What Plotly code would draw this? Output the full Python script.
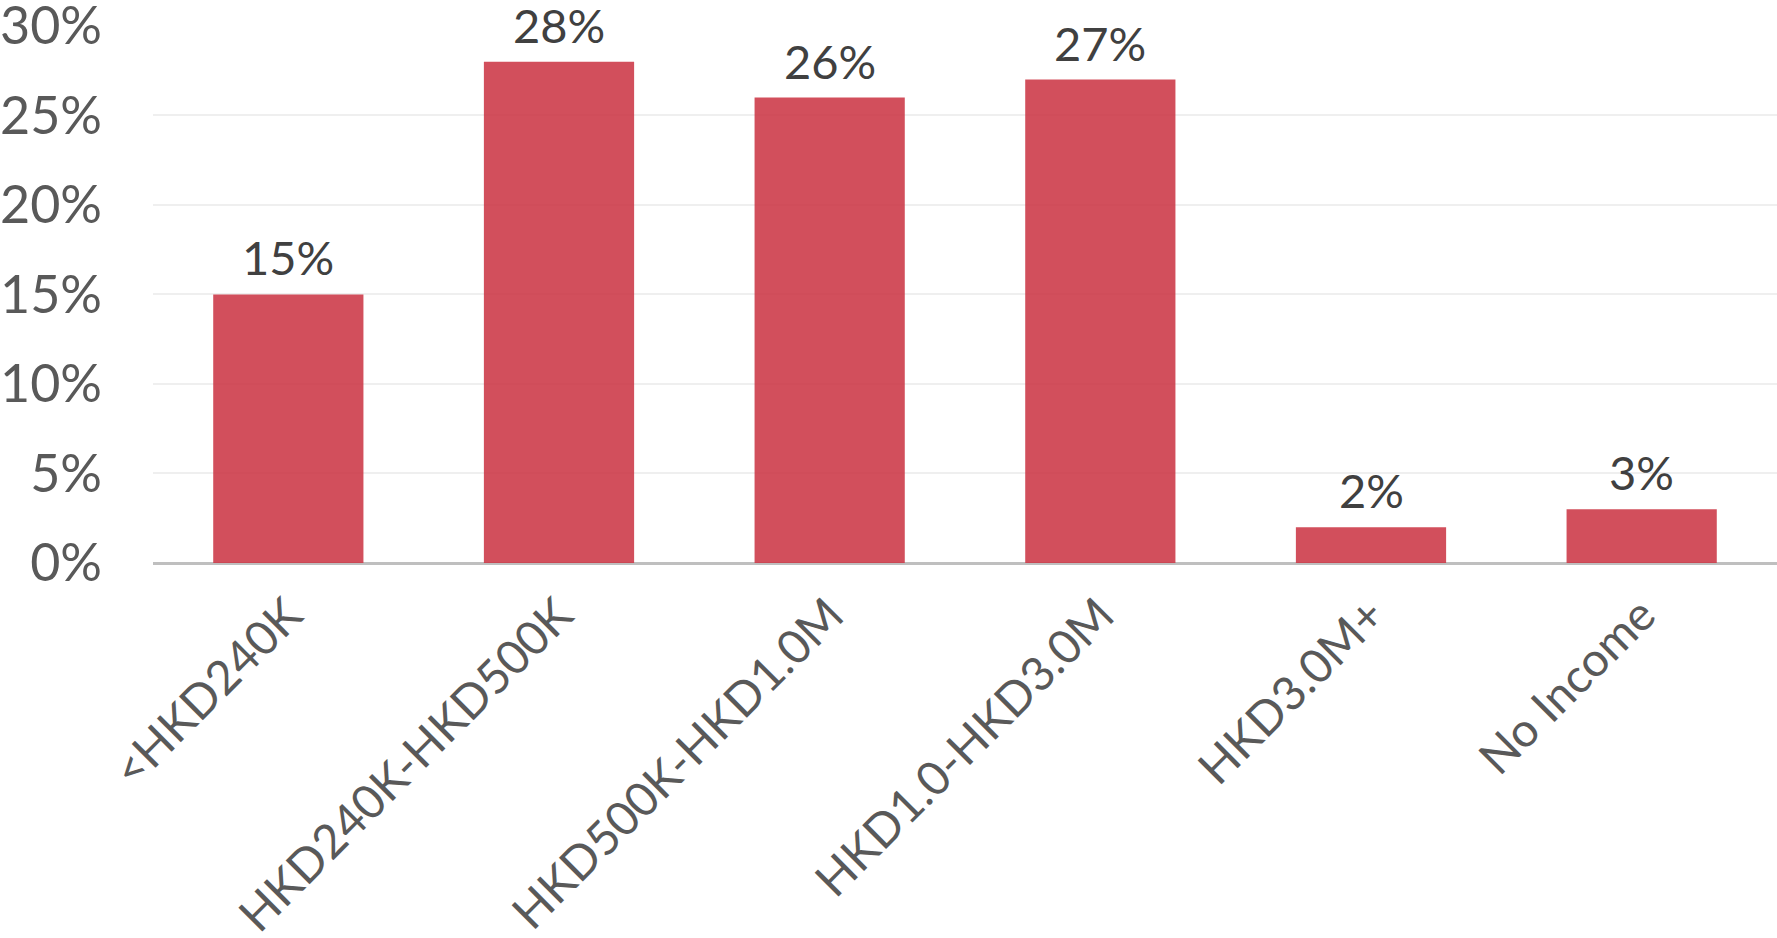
import plotly.graph_objects as go

# Household income bands and share of respondents (%)
categories = ["<HKD240K", "HKD240K-HKD500K", "HKD500K-HKD1.0M",
              "HKD1.0-HKD3.0M", "HKD3.0M+", "No Income"]
shares = [15, 28, 26, 27, 2, 3]
y_ticks = [0, 5, 10, 15, 20, 25, 30]

FONT = "Lato"
BAR_COLOR = "rgba(204,55,70,0.88)"

fig = go.Figure(
    go.Bar(
        x=categories,
        y=shares,
        width=0.555,
        marker=dict(color=BAR_COLOR, line=dict(width=0)),
        cliponaxis=False,
    )
)

# value labels above each bar
for cat, v in zip(categories, shares):
    fig.add_annotation(
        x=cat, y=v, text=f"{v}%",
        xref="x", yref="y",
        yanchor="bottom", showarrow=False,
        yshift=7,
        font=dict(family=FONT, size=47, color="#404040"),
    )

fig.update_layout(
    width=1777,
    height=938,
    margin=dict(l=153, r=0, t=25, b=375),
    paper_bgcolor="white",
    plot_bgcolor="white",
    showlegend=False,
)

fig.update_xaxes(
    type="category",
    tickangle=-45,
    tickfont=dict(family=FONT, size=47, color="#595959"),
    showgrid=False,
    showline=False,
    ticks="",
    ticklabelstandoff=14,
    automargin=False,
)

fig.update_yaxes(
    range=[0, 30.05],
    tickvals=y_ticks,
    ticktext=[f"{v}%" for v in y_ticks],
    tickfont=dict(family=FONT, size=52, color="#595959"),
    ticklabeloverflow="allow",
    showgrid=True,
    gridcolor="#efefef",
    gridwidth=2,
    zeroline=True,
    zerolinecolor="#bfbfbf",
    zerolinewidth=3,
    showline=False,
    ticks="",
    ticklabelstandoff=50,
    automargin=False,
)

fig.write_html("out.html")
